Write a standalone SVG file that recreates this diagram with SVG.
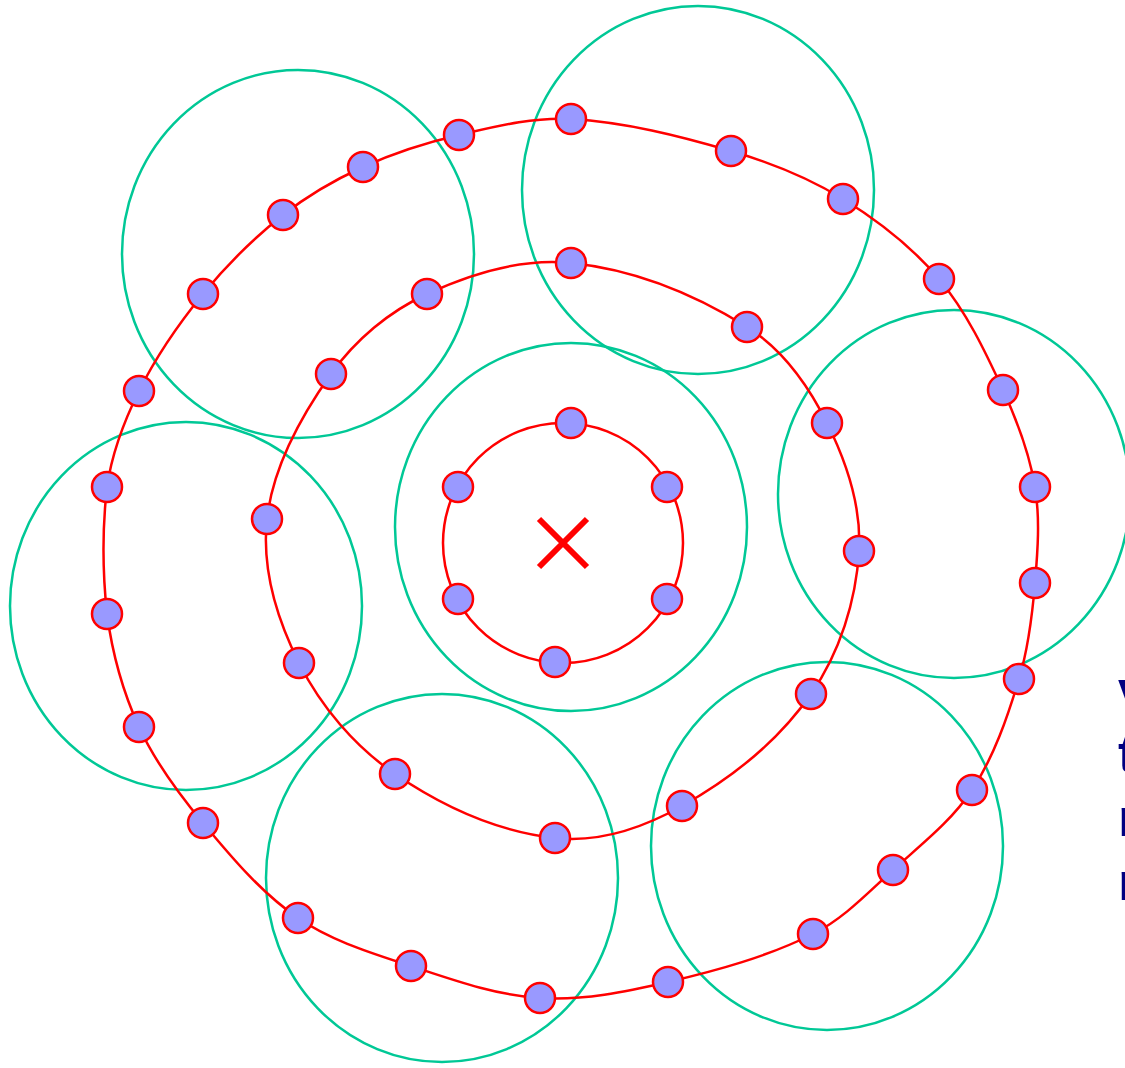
<svg xmlns="http://www.w3.org/2000/svg" width="1125" height="1068" viewBox="0 0 1125 1068">
<style>
.range{fill:none;stroke:#00c896;stroke-width:2.5}
.ring{fill:none;stroke:#ff0000;stroke-width:2.5}
.node{fill:#9999ff;stroke:#ff0000;stroke-width:2.5}
.lbl{font-family:"Liberation Sans",Arial,sans-serif;font-weight:bold;font-size:54px;fill:#000080}
</style>
<rect width="1125" height="1068" fill="#ffffff"/>
<g id="ranges">
<ellipse class="range" cx="298" cy="254" rx="176" ry="184"/>
<ellipse class="range" cx="698" cy="190" rx="176" ry="184"/>
<ellipse class="range" cx="571" cy="527" rx="176" ry="184"/>
<ellipse class="range" cx="954" cy="494" rx="176" ry="184"/>
<ellipse class="range" cx="186" cy="606" rx="176" ry="184"/>
<ellipse class="range" cx="442" cy="878" rx="176" ry="184"/>
<ellipse class="range" cx="827" cy="846" rx="176" ry="184"/>
</g>
<g id="connectors">
<circle class="ring" cx="563" cy="543" r="120"/>
<path class="ring" d="M571,263 C633.1,269.4 694.1,293.9 747,327 C782.4,349.1 808.4,385.7 827,423 C846.7,462.4 861.6,507.1 859,551 C856,601.2 839.7,652.7 811,694 C778.6,740.8 731.6,778.1 682,806 C643.9,827.4 598.4,842.9 555,838 C497.9,831.6 442.4,806.4 395,774 C354.6,746.4 321,706.7 299,663 C276.9,619 261.6,567.9 267,519 C272.8,466.5 300.4,417 331,374 C355.2,340 389.1,311.5 427,294 C471.6,273.4 522.1,257.9 571,263 Z"/>
<path class="ring" d="M571,119 C625.3,122.2 678.8,135.7 731,151 C769.9,162.4 808.4,177.7 843,199 C878.5,220.9 912.2,247 939,279 C966.4,311.8 985.1,351.2 1003,390 C1017.2,420.9 1029.4,453.4 1035,487 C1040.2,518.6 1037.7,551.1 1035,583 C1032.3,615.3 1028.4,648 1019,679 C1007.3,717.5 994.2,756.4 972,790 C951.3,821.3 920.8,844.8 893,870 C867.7,892.9 843.5,918.8 813,934 C767.4,956.7 717.6,970.4 668,982 C626.1,991.8 582.9,1000.7 540,998 C495.8,995.3 453,979.9 411,966 C372.2,953.2 331.7,941.2 298,918 C261.1,892.6 231.7,857.5 203,823 C178.4,793.4 155.1,762 139,727 C122.7,691.5 112.2,652.7 107,614 C102.5,572.1 102.2,528.9 107,487 C111.8,453.6 124,421.2 139,391 C156.2,356.4 178.5,324 203,294 C226.7,265 253.6,238.3 283,215 C307.4,195.7 334.7,179.9 363,167 C393.7,153 426.2,142.6 459,135 C495.7,126.5 533.4,116.8 571,119 Z"/>
</g>
<g id="center">
<path d="M539,519 L587,567 M587,519 L539,567" stroke="#ff0000" stroke-width="6" fill="none"/>
</g>
<g id="nodes-inner">
<circle class="node" cx="571" cy="423" r="15"/>
<circle class="node" cx="458" cy="487" r="15"/>
<circle class="node" cx="667" cy="487" r="15"/>
<circle class="node" cx="458" cy="599" r="15"/>
<circle class="node" cx="667" cy="599" r="15"/>
<circle class="node" cx="555" cy="662" r="15"/>
</g>
<g id="nodes-middle">
<circle class="node" cx="571" cy="263" r="15"/>
<circle class="node" cx="747" cy="327" r="15"/>
<circle class="node" cx="827" cy="423" r="15"/>
<circle class="node" cx="859" cy="551" r="15"/>
<circle class="node" cx="811" cy="694" r="15"/>
<circle class="node" cx="682" cy="806" r="15"/>
<circle class="node" cx="555" cy="838" r="15"/>
<circle class="node" cx="395" cy="774" r="15"/>
<circle class="node" cx="299" cy="663" r="15"/>
<circle class="node" cx="267" cy="519" r="15"/>
<circle class="node" cx="331" cy="374" r="15"/>
<circle class="node" cx="427" cy="294" r="15"/>
</g>
<g id="nodes-outer">
<circle class="node" cx="571" cy="119" r="15"/>
<circle class="node" cx="731" cy="151" r="15"/>
<circle class="node" cx="843" cy="199" r="15"/>
<circle class="node" cx="939" cy="279" r="15"/>
<circle class="node" cx="1003" cy="390" r="15"/>
<circle class="node" cx="1035" cy="487" r="15"/>
<circle class="node" cx="1035" cy="583" r="15"/>
<circle class="node" cx="1019" cy="679" r="15"/>
<circle class="node" cx="972" cy="790" r="15"/>
<circle class="node" cx="893" cy="870" r="15"/>
<circle class="node" cx="813" cy="934" r="15"/>
<circle class="node" cx="668" cy="982" r="15"/>
<circle class="node" cx="540" cy="998" r="15"/>
<circle class="node" cx="411" cy="966" r="15"/>
<circle class="node" cx="298" cy="918" r="15"/>
<circle class="node" cx="203" cy="823" r="15"/>
<circle class="node" cx="139" cy="727" r="15"/>
<circle class="node" cx="107" cy="614" r="15"/>
<circle class="node" cx="107" cy="487" r="15"/>
<circle class="node" cx="139" cy="391" r="15"/>
<circle class="node" cx="203" cy="294" r="15"/>
<circle class="node" cx="283" cy="215" r="15"/>
<circle class="node" cx="363" cy="167" r="15"/>
<circle class="node" cx="459" cy="135" r="15"/>
</g>
<g id="label">
<text class="lbl" x="1118" y="708">v</text>
<text class="lbl" x="1118" y="772">t</text>
<text class="lbl" x="1118" y="836">n</text>
<text class="lbl" x="1118" y="900">n</text>
</g>
</svg>
